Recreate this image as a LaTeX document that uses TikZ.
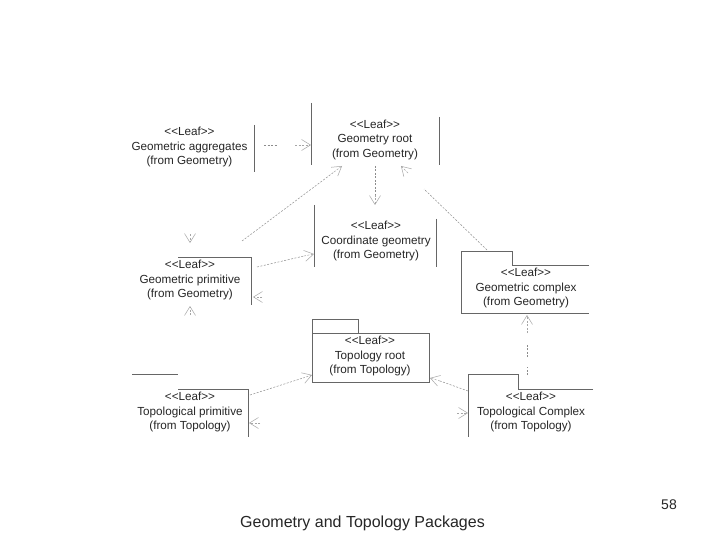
\documentclass[tikz,border=0pt]{standalone}
\usepackage{fontspec}
\setmainfont{Liberation Sans}
\usetikzlibrary{arrows.meta}
\tikzset{
  x=1pt,y=-1pt,
  lbl/.style={inner sep=0pt,font=\fontsize{11.7}{14.5}\selectfont,align=center,text=black!85},
  edge/.style={draw=black!60,line width=0.55pt},
  dep/.style={draw=black!45,line width=0.5pt,dash pattern=on 2pt off 1.5pt},
  openhead/.style={draw=black!35,line width=0.5pt,dash pattern=on 2pt off 1.5pt,-{Straight Barb[length=9pt,width=11pt,line width=0.5pt]}},
  caption/.style={inner sep=0pt,font=\fontsize{16}{18}\selectfont,text=black!85},
  pagenum/.style={inner sep=0pt,font=\fontsize{14}{16}\selectfont,text=black!85}
}
\begin{document}
\begin{tikzpicture}
\useasboundingbox[fill=white] (0,0) rectangle (720,540);
% labels
\node[lbl] (agg) at (189.5,147) {<{}<Leaf>{}>\\Geometric aggregates\\(from Geometry)};
\node[lbl] (root) at (375,139.5) {<{}<Leaf>{}>\\Geometry root\\(from Geometry)};
\node[lbl] (coord) at (376,241) {<{}<Leaf>{}>\\Coordinate geometry\\(from Geometry)};
\node[lbl] (prim) at (190,280) {<{}<Leaf>{}>\\Geometric primitive\\(from Geometry)};
\node[lbl] (troot) at (370,356) {<{}<Leaf>{}>\\Topology root\\(from Topology)};
\node[lbl] (gcx) at (526,288) {<{}<Leaf>{}>\\Geometric complex\\(from Geometry)};
\node[lbl] (tprim) at (190,412) {<{}<Leaf>{}>\\Topological primitive\\(from Topology)};
\node[lbl] (tcx) at (531,412) {<{}<Leaf>{}>\\Topological Complex\\(from Topology)};
\node[pagenum] (pg) at (669,505) {58};
\node[caption] (cap) at (362.5,523) {Geometry and Topology Packages};
% remains of the box outlines
\draw[edge] (254,125) -- (254,172);
\draw[edge] (311.5,103) -- (311.5,165);
\draw[edge] (439,117) -- (439,165);
\draw[edge] (314.5,205) -- (314.5,267);
\draw[edge] (436.5,219) -- (436.5,267);
\draw[edge] (178,257) -- (251,257) -- (251,305);
\draw[edge] (312.5,333) rectangle (429.5,382);
\draw[edge] (312.5,333) -- (312.5,319) -- (358.5,319) -- (358.5,333);
\draw[edge] (589,265) -- (512,265) -- (512,251) -- (461.5,251) -- (461.5,313) -- (589,313);
\draw[edge] (593,389) -- (518,389) -- (518,374) -- (468,374) -- (468,437);
\draw[edge] (132,374) -- (178,374);
\draw[edge] (178,389) -- (248,389) -- (248,437);
% connector ends
\coordinate (a1) at (264,145); \coordinate (a2) at (278,145);
\coordinate (a3) at (295,145); \coordinate (a4) at (311,145);
\coordinate (r1) at (375,166); \coordinate (r1b) at (375,195); \coordinate (c1) at (375,205);
\coordinate (p1) at (242,241); \coordinate (r2b) at (334,172); \coordinate (r2) at (342,166);
\coordinate (p2) at (257,267); \coordinate (c2b) at (304,256); \coordinate (c2) at (314,254);
\coordinate (g1) at (487,250); \coordinate (g2) at (424,189);
\coordinate (g3) at (408,173); \coordinate (r3) at (401,166);
\coordinate (d1) at (190,234); \coordinate (d2) at (190,243);
\coordinate (u1) at (190,315); \coordinate (u2) at (190,306);
\coordinate (l1) at (262,297); \coordinate (l2) at (253,297);
\coordinate (t1) at (250,395); \coordinate (t2b) at (303,378); \coordinate (t2) at (312,375);
\coordinate (t3) at (468,391); \coordinate (t4b) at (440,381); \coordinate (t4) at (430,378);
\coordinate (m1) at (260,423); \coordinate (m2) at (249,423);
\coordinate (n1) at (457,413); \coordinate (n2) at (468,413);
\coordinate (v1) at (527,375); \coordinate (v2) at (527,367);
\coordinate (v3) at (527,357); \coordinate (v4) at (527,345);
\coordinate (v5) at (527,333); \coordinate (v6) at (527,315);
% connectors
\draw[dep] (a1) -- (a2);
\draw[openhead] (a3) -- (a4);
\draw[dep] (r1) -- (r1b);
\draw[openhead] (r1b) -- (c1);
\draw[dep] (p1) -- (r2b);
\draw[openhead] (r2b) -- (r2);
\draw[dep] (p2) -- (c2b);
\draw[openhead] (c2b) -- (c2);
\draw[dep] (g1) -- (g2);
\draw[openhead] (g3) -- (r3);
\draw[openhead] (d1) -- (d2);
\draw[openhead] (u1) -- (u2);
\draw[openhead] (l1) -- (l2);
\draw[dep] (t1) -- (t2b);
\draw[openhead] (t2b) -- (t2);
\draw[dep] (t3) -- (t4b);
\draw[openhead] (t4b) -- (t4);
\draw[openhead] (m1) -- (m2);
\draw[openhead] (n1) -- (n2);
\draw[dep] (v1) -- (v2);
\draw[dep] (v3) -- (v4);
\draw[openhead] (v5) -- (v6);
\end{tikzpicture}
\end{document}
